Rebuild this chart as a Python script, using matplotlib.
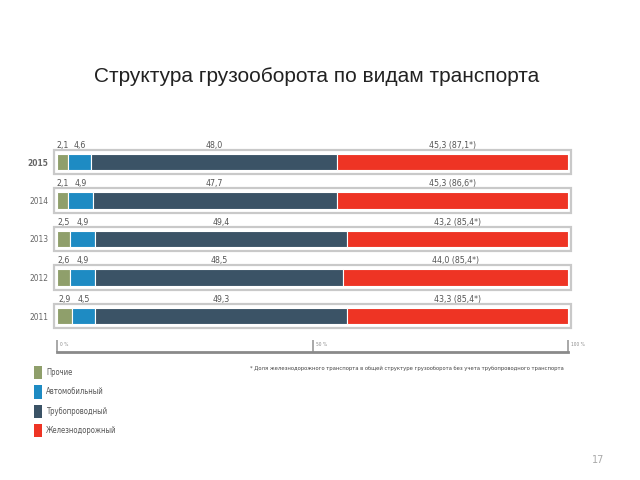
import matplotlib
matplotlib.use("Agg")
import matplotlib.pyplot as plt
from matplotlib.patches import Patch
from matplotlib.font_manager import FontProperties
import numpy as np

years = ["2015", "2014", "2013", "2012", "2011"]
other = [2.1, 2.1, 2.5, 2.6, 2.9]
auto = [4.6, 4.9, 4.9, 4.9, 4.5]
pipe = [48.0, 47.7, 49.4, 48.5, 49.3]
rail = [45.3, 45.3, 43.2, 44.0, 43.3]
rail_share = [87.1, 86.6, 85.4, 85.4, 85.4]

series = [other, auto, pipe, rail]
names = ["Прочие", "Автомобильный", "Трубопроводный", "Железнодорожный"]
colors = ["#8f9f6b", "#1e8bc3", "#3b5366", "#ee3424"]

axis_ticks = [0, 50, 100]
axis_labels = ["0 %", "50 %", "100 %"]

title = "Структура грузооборота по видам транспорта"
note = ("* Доля железнодорожного транспорта в общей структуре грузооборота "
        "без учета трубопроводного транспорта")

W, H = 640, 480
fig = plt.figure(figsize=(6.4, 4.8), dpi=100)

# axes placed in pixel geometry of the reference
x0, x1 = 57, 568
ytop, ybot = 139, 352
ax = fig.add_axes([x0 / W, 1 - ybot / H, (x1 - x0) / W, (ybot - ytop) / H])

ypos = np.arange(len(years))[::-1].astype(float)
unit = 38.5  # px per category
ax.set_xlim(0, 100)
ax.set_ylim(-(ybot - 316) / unit, 4 + (162 - ytop) / unit)


def cond(size, weight="normal"):
    return FontProperties(family="DejaVu Sans", stretch="condensed",
                          size=size, weight=weight)


# frames around each bar
frames = ax.barh(ypos, 101.2, left=-0.6, height=0.64, color="white",
                 edgecolor="#c9c9c9", linewidth=1.6, zorder=1)
for p in frames:
    p.set_clip_on(False)

left = np.zeros(len(years))
for vals, name, c in zip(series, names, colors):
    vals = np.array(vals)
    ax.barh(ypos, vals, left=left, height=0.42, color=c,
            edgecolor="white", linewidth=0.8, zorder=2, label=name)
    for i, v in enumerate(vals):
        txt = f"{v:.1f}".replace(".", ",")
        if c == colors[3]:
            txt += f" ({rail_share[i]:.1f}*)".replace(".", ",")
        ax.text(left[i] + v / 2, ypos[i] + 0.44, txt, ha="center",
                va="center", color="#555555", fontproperties=cond(6.3))
    left += vals

ax.set_yticks(ypos)
ax.set_yticklabels(years, color="#666666")
for i, lab in enumerate(ax.get_yticklabels()):
    lab.set_fontproperties(cond(6, "bold" if i == 0 else "normal"))
ax.tick_params(axis="y", length=0, pad=6)

ax.set_xticks(axis_ticks)
ax.set_xticklabels([])
ax.tick_params(axis="x", direction="in", length=9, width=1.2, color="#999999")
for t, lab in zip(axis_ticks, axis_labels):
    ax.text(t + 0.6, ax.get_ylim()[0] + 0.2, lab, color="#888888",
            va="center", ha="left", fontproperties=cond(3.5))

for s in ["top", "right", "left"]:
    ax.spines[s].set_visible(False)
ax.spines["bottom"].set_color("#8a8a8a")
ax.spines["bottom"].set_linewidth(2)

fig.text(317 / W, 1 - 77 / H, title, ha="center", va="center",
         fontsize=15, family=["Liberation Sans", "DejaVu Sans"], color="#222222")

handles = [Patch(facecolor=c, edgecolor="none") for c in colors]
fig.legend(handles, names, loc="upper left", bbox_to_anchor=(27 / W, 1 - 359 / H),
           frameon=False, handlelength=1.0, handleheight=2.3,
           handletextpad=0.6, labelspacing=0.8, labelcolor="#555555",
           prop=cond(5.5))

fig.text(250 / W, 1 - 368 / H, note, color="#444444",
         ha="left", va="center", fontproperties=cond(4.2))

fig.text(598 / W, 1 - 460 / H, "17", fontsize=7, color="#aaaaaa",
         ha="center", va="center")

fig.savefig("out.png", dpi=100, facecolor="white")
